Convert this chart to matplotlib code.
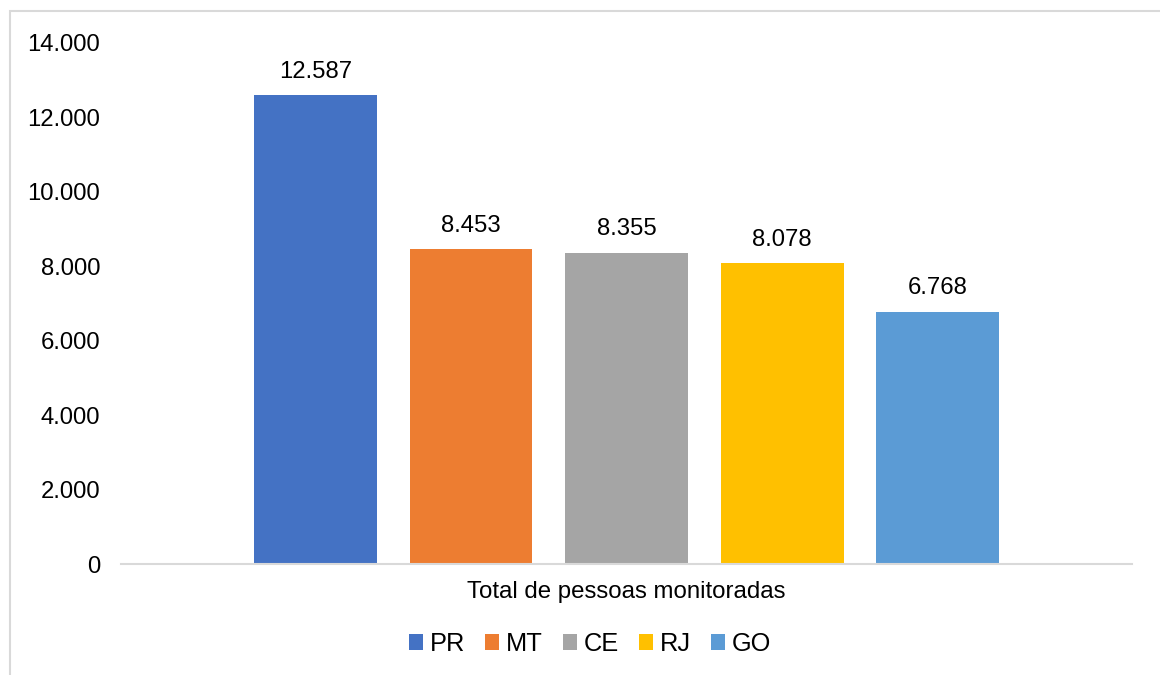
import matplotlib
matplotlib.use("Agg")
import matplotlib.pyplot as plt
from matplotlib.patches import Rectangle, Patch
from matplotlib.ticker import FuncFormatter

plt.rcParams['font.family'] = ['Liberation Sans', 'DejaVu Sans']

estados = ['PR', 'MT', 'CE', 'RJ', 'GO']
valores = [12587, 8453, 8355, 8078, 6768]
cores = ['#4472C4', '#ED7D31', '#A5A5A5', '#FFC000', '#5B9BD5']
yticks = [0, 2000, 4000, 6000, 8000, 10000, 12000, 14000]
categoria = 'Total de pessoas monitoradas'


def milhar(v):
    return '{:,.0f}'.format(v).replace(',', '.')


fig = plt.figure(figsize=(11.6, 6.75), dpi=100)
ax = fig.add_axes([0.1043, 0.1644, 0.8716, 0.7726])

x = list(range(len(estados)))
bars = ax.bar(x, valores, width=0.79, color=cores)
for b, v in zip(bars, valores):
    ax.annotate(milhar(v), (b.get_x() + b.get_width() / 2, v),
                xytext=(0, 9), textcoords='offset points',
                ha='center', va='bottom', fontsize=17.2, color='#000000')

ax.set_xlim(-1.25, 5.25)
ax.set_ylim(0, 14000)
ax.set_yticks(yticks)
ax.yaxis.set_major_formatter(FuncFormatter(lambda v, p: milhar(v)))
ax.set_xticks([])
ax.tick_params(axis='y', length=0, pad=15, labelsize=17.2)
for s in ['top', 'right', 'left']:
    ax.spines[s].set_visible(False)
ax.spines['bottom'].set_color('#d9d9d9')
ax.spines['bottom'].set_linewidth(1.5)

fig.text(626.5 / 1160, 1 - 592 / 675, categoria, ha='center', va='center', fontsize=17.3)

handles = [Patch(facecolor=c, edgecolor='none') for c in cores]
fig.legend(handles, estados, loc='center', bbox_to_anchor=(590 / 1160, 1 - 644 / 675),
           ncol=5, frameon=False, fontsize=18.3, handlelength=0.56, handleheight=0.56,
           handletextpad=0.25, columnspacing=0.8)

# moldura da área do gráfico
fig.patches.append(Rectangle((9.5 / 1160, -0.1), 1.2, (675 - 11) / 675 + 0.1,
                             transform=fig.transFigure, fill=False,
                             edgecolor='#d9d9d9', linewidth=1.5))

fig.savefig('out.png', dpi=100)
